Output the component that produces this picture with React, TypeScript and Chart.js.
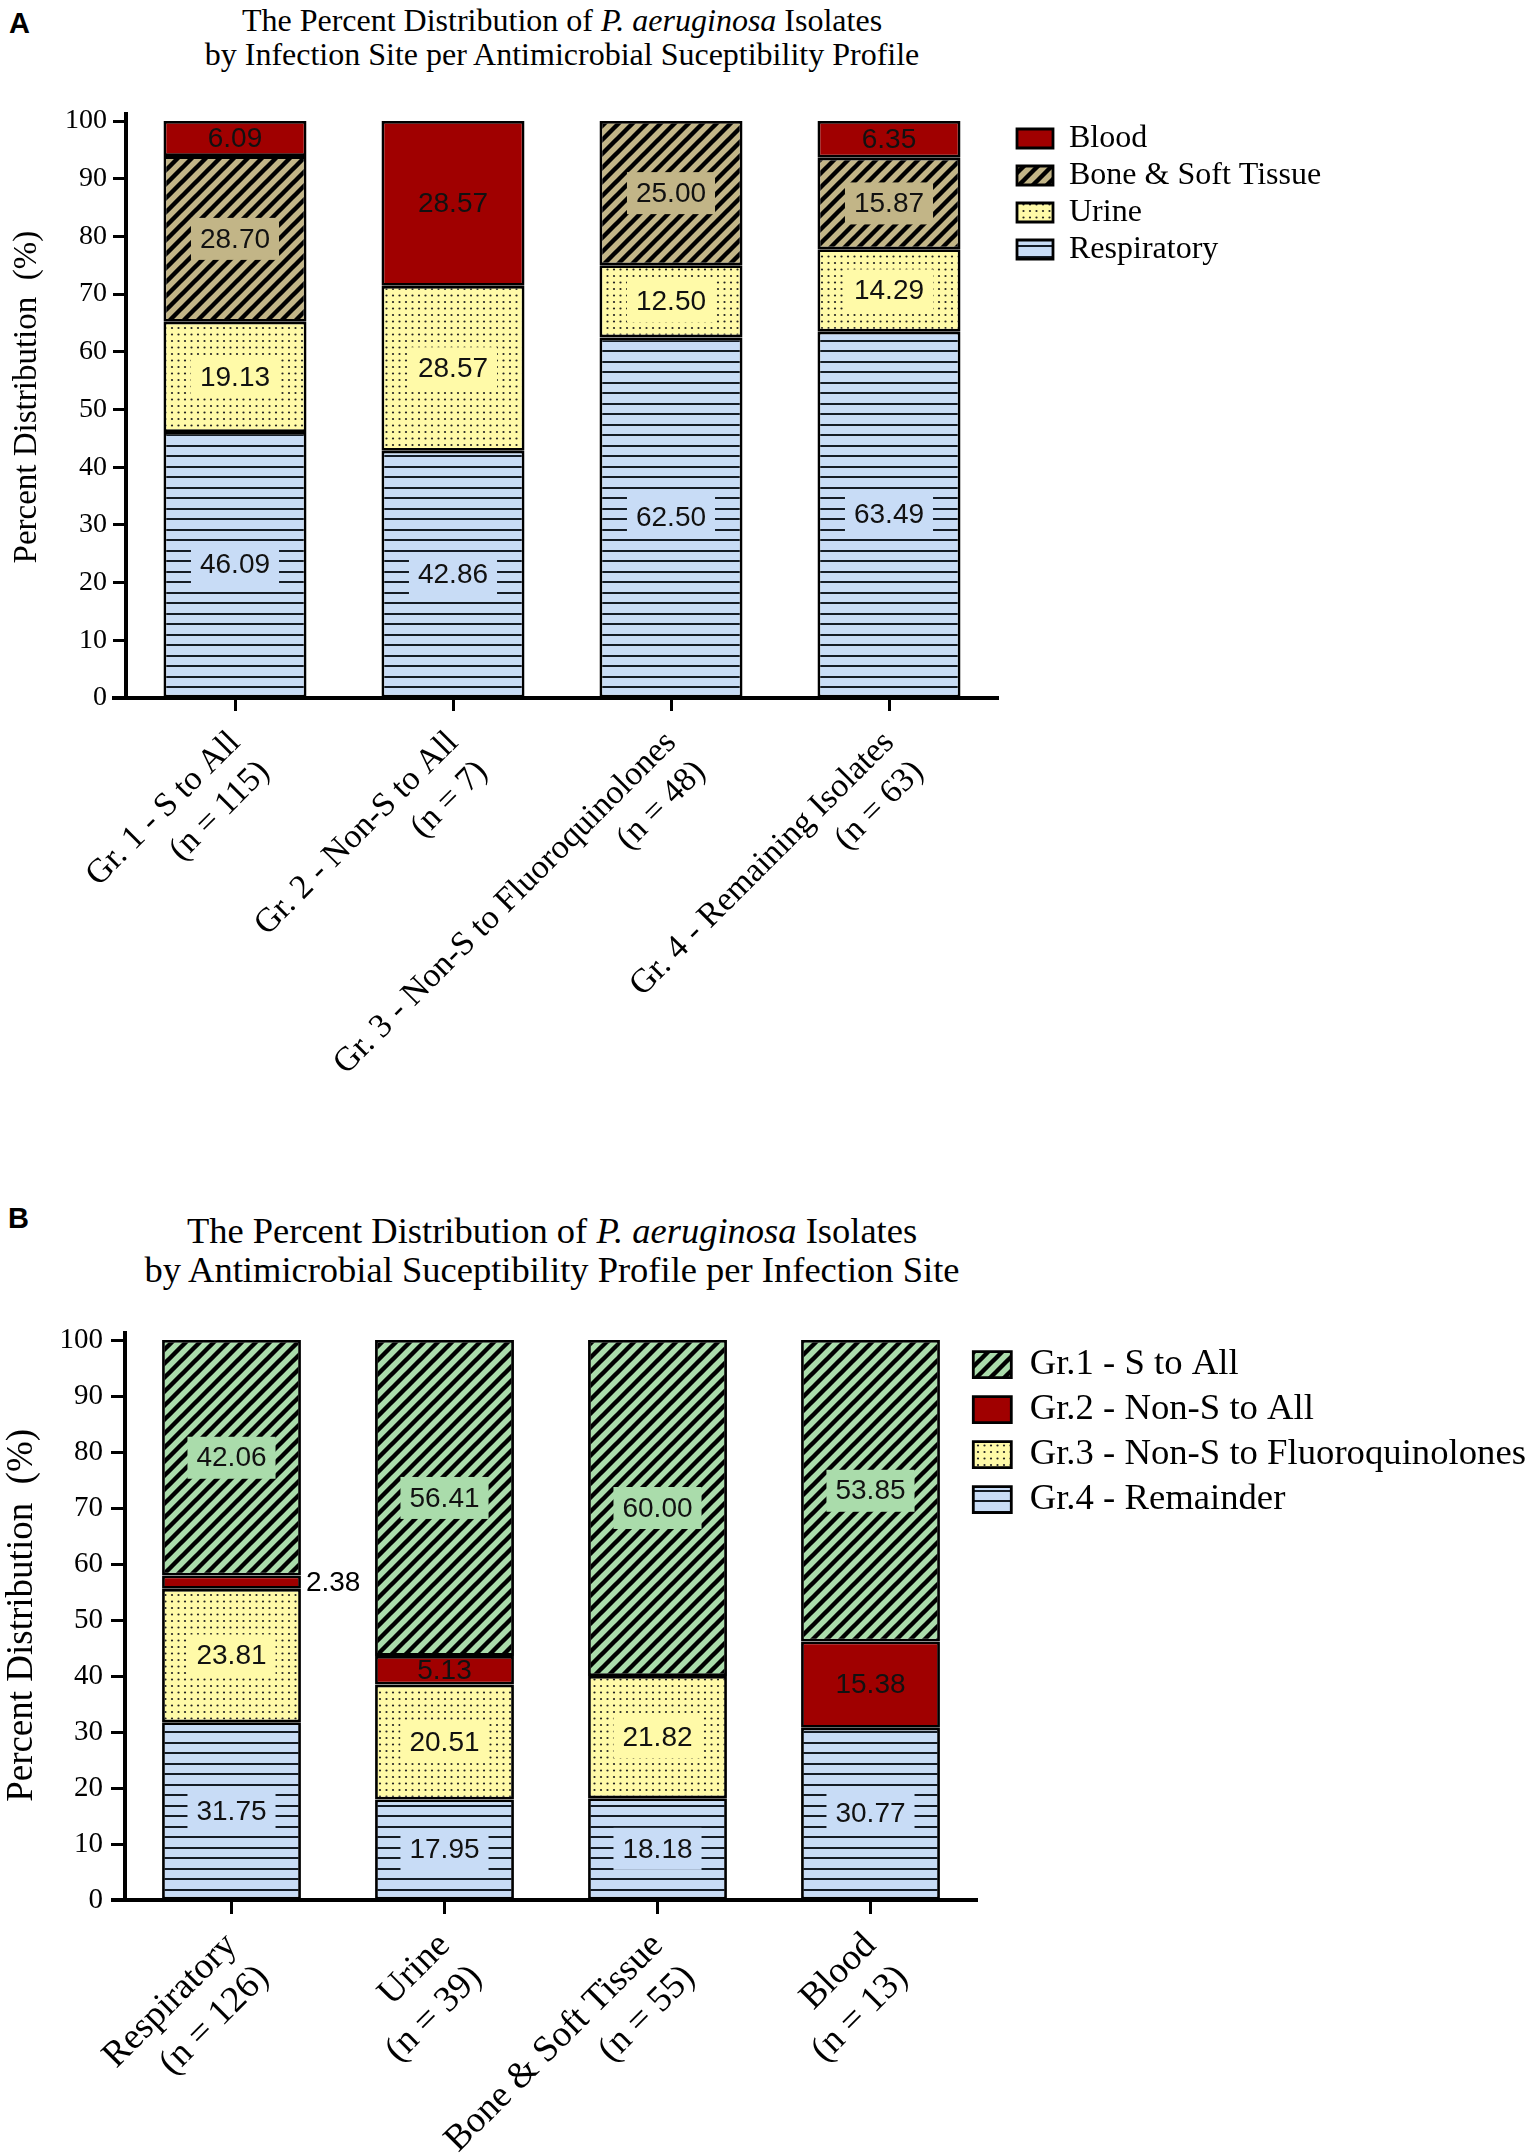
import React, { useEffect, useRef } from "react";
import { Chart, registerables } from "chart.js";

Chart.register(...registerables);

const SERIF = "'Liberation Serif', 'Times New Roman', serif";
const SANS = "'Liberation Sans', Arial, sans-serif";

// ---------- Data: panel A ----------
const aCategories = [
  ["Gr. 1 - S to All", "(n = 115)"],
  ["Gr. 2 - Non-S to All", "(n = 7)"],
  ["Gr. 3 - Non-S to Fluoroquinolones", "(n = 48)"],
  ["Gr. 4 - Remaining Isolates", "(n = 63)"],
];
const aSeriesNames = ["Respiratory", "Urine", "Bone & Soft Tissue", "Blood"];
const aRespiratory = [46.09, 42.86, 62.5, 63.49];
const aUrine = [19.13, 28.57, 12.5, 14.29];
const aBoneSoftTissue = [28.7, 0, 25.0, 15.87];
const aBlood = [6.09, 28.57, 0, 6.35];

// ---------- Data: panel B ----------
const bCategories = [
  ["Respiratory", "(n = 126)"],
  ["Urine", "(n = 39)"],
  ["Bone & Soft Tissue", "(n = 55)"],
  ["Blood", "(n = 13)"],
];
const bSeriesNames = [
  "Gr.4 - Remainder",
  "Gr.3 - Non-S to Fluoroquinolones",
  "Gr.2 - Non-S to All",
  "Gr.1 - S to All",
];
const bGr4 = [31.75, 17.95, 18.18, 30.77];
const bGr3 = [23.81, 20.51, 21.82, 0];
const bGr2 = [2.38, 5.13, 0, 15.38];
const bGr1 = [42.06, 56.41, 60.0, 53.85];

const yTicks = [0, 10, 20, 30, 40, 50, 60, 70, 80, 90, 100];
const yTitle = "Percent Distribution  (%)";

// ---------- Styles ----------
const RED = "#a00000";
const KHAKI = "#c2b587";
const YELLOW = "#fffaa8";
const BLUE = "#c8dcf6";
const GREEN = "#aadcab";

type Kind = "solid" | "hlines" | "dots" | "diag";

function makeFill(ctx: CanvasRenderingContext2D, kind: Kind, color: string): any {
  if (kind === "solid") return color;
  const c = document.createElement("canvas");
  const g = c.getContext("2d")!;
  if (kind === "hlines") {
    c.width = 12;
    c.height = 21;
    g.fillStyle = color;
    g.fillRect(0, 0, 12, 21);
    g.fillStyle = "#141c26";
    g.fillRect(0, 4, 12, 2);
    g.fillRect(0, 14, 12, 2);
  } else if (kind === "dots") {
    c.width = 13;
    c.height = 13;
    g.fillStyle = color;
    g.fillRect(0, 0, 13, 13);
    g.fillStyle = "#222";
    const pts = [
      [3, 3],
      [9.5, 3],
      [3, 9.5],
      [9.5, 9.5],
    ];
    for (const [px, py] of pts) {
      g.beginPath();
      g.arc(px, py, 1.1, 0, Math.PI * 2);
      g.fill();
    }
  } else {
    const s = 14;
    c.width = s;
    c.height = s;
    g.fillStyle = color;
    g.fillRect(0, 0, s, s);
    g.strokeStyle = "#000";
    g.lineWidth = 4.4;
    g.beginPath();
    for (const o of [-s, 0, s]) {
      g.moveTo(o - 3, s + 3);
      g.lineTo(o + s + 3, -3);
    }
    g.stroke();
  }
  return ctx.createPattern(c, "repeat");
}

interface PanelSpec {
  top: number;
  width: number;
  height: number;
  area: { left: number; top: number; right: number; bottom: number };
  categories: string[][];
  names: string[];
  values: number[][];
  kinds: Kind[];
  colors: string[];
  barPct: number;
  tickFont: number;
  xFont: number;
  xPad: number;
  yPad: number;
  tickLen: number;
  yTitle: string;
  yTitleFont: number;
  yTitlePad: number;
  legendFont: number;
  legendBoxW: number;
  legendBoxH: number;
  legendPad: number;
  legendDx: number;
  legendDy: number;
  labelFont: number;
}

const LEGEND_W = 200;
const BORDER = 2.8;

const panelA: PanelSpec = {
  top: 0,
  width: 1535,
  height: 1130,
  area: { left: 126, top: 121, right: 998, bottom: 698 },
  categories: aCategories,
  names: aSeriesNames,
  values: [aRespiratory, aUrine, aBoneSoftTissue, aBlood],
  kinds: ["hlines", "dots", "diag", "solid"],
  colors: [BLUE, YELLOW, KHAKI, RED],
  barPct: 0.656,
  tickFont: 28,
  xFont: 34,
  xPad: 12,
  yPad: 6,
  tickLen: 13,
  yTitle: "\u00a0\u00a0\u00a0" + yTitle,
  yTitleFont: 33,
  yTitlePad: 8,
  legendFont: 32,
  legendBoxW: 36,
  legendBoxH: 19,
  legendPad: 5,
  legendDx: 14,
  legendDy: -3.5,
  labelFont: 28,
};

const panelB: PanelSpec = {
  top: 1150,
  width: 1535,
  height: 1003,
  area: { left: 125, top: 190, right: 977, bottom: 750 },
  categories: bCategories,
  names: bSeriesNames,
  values: [bGr4, bGr3, bGr2, bGr1],
  kinds: ["hlines", "dots", "solid", "diag"],
  colors: [BLUE, YELLOW, RED, GREEN],
  barPct: 0.652,
  tickFont: 29,
  xFont: 37,
  xPad: 10,
  yPad: 8,
  tickLen: 14,
  yTitle: "\u00a0" + yTitle,
  yTitleFont: 37,
  yTitlePad: 0,
  legendFont: 36.7,
  legendBoxW: 38,
  legendBoxH: 26,
  legendPad: 8.3,
  legendDx: -12,
  legendDy: -2,
  labelFont: 28,
};

function Panel({ spec }: { spec: PanelSpec }) {
  const ref = useRef<HTMLCanvasElement>(null);
  useEffect(() => {
    const canvas = ref.current!;
    const ctx = canvas.getContext("2d")!;
    const fills = spec.kinds.map((k, i) => makeFill(ctx, k, spec.colors[i]));

    const legendShift = {
      id: "legendShift",
      afterLayout(chart: any) {
        const l = chart.legend;
        if (!l) return;
        l.left += spec.legendDx;
        l.top += spec.legendDy;
        l.bottom += spec.legendDy;
        l.right = chart.width;
        l.width = l.right - l.left;
      },
    };

    const axisExtend = {
      id: "axisExtend",
      afterDraw(chart: any) {
        const c = chart.ctx;
        const a = chart.chartArea;
        c.save();
        c.strokeStyle = "#000";
        c.lineWidth = 4;
        c.beginPath();
        c.moveTo(a.left - 14, a.bottom);
        c.lineTo(a.left + 2, a.bottom);
        c.moveTo(a.left, a.top - 9);
        c.lineTo(a.left, a.top + 2);
        c.stroke();
        c.restore();
      },
    };

    const segLabels = {
      id: "segLabels",
      afterDatasetsDraw(chart: any) {
        const c = chart.ctx;
        c.save();
        c.font = `${spec.labelFont}px ${SANS}`;
        c.textBaseline = "middle";
        chart.data.datasets.forEach((ds: any, di: number) => {
          const meta = chart.getDatasetMeta(di);
          meta.data.forEach((bar: any, i: number) => {
            const v = ds.data[i];
            if (!v) return;
            const p = bar.getProps(["x", "y", "base", "width"], true);
            const top = Math.min(p.y, p.base);
            const bottom = Math.max(p.y, p.base);
            const cy = (top + bottom) / 2;
            const txt = v.toFixed(2);
            if (v < 3) {
              c.textAlign = "left";
              c.fillStyle = "#000";
              c.fillText(txt, p.x + p.width / 2 + 5, cy + 1);
              return;
            }
            if (spec.kinds[di] !== "solid") {
              const tw = c.measureText(txt).width;
              c.save();
              c.beginPath();
              c.rect(
                p.x - p.width / 2 + BORDER,
                top + BORDER,
                p.width - 2 * BORDER,
                bottom - top - 2 * BORDER
              );
              c.clip();
              c.fillStyle = spec.colors[di];
              c.fillRect(p.x - tw / 2 - 9, cy - 21, tw + 18, 42);
              c.restore();
            }
            c.textAlign = "center";
            c.fillStyle = "#111";
            c.fillText(txt, p.x, cy + 1);
          });
        });
        c.restore();
      },
    };

    const chart = new Chart(canvas, {
      type: "bar",
      data: {
        labels: spec.categories,
        datasets: spec.names.map((n, i) => ({
          label: n,
          data: spec.values[i],
          backgroundColor: fills[i],
          borderColor: "#000",
          borderWidth: BORDER,
          borderSkipped: false,
          inflateAmount: 0,
          barPercentage: spec.barPct,
          categoryPercentage: 1,
        })),
      },
      options: {
        responsive: false,
        animation: false,
        events: [],
        layout: {
          padding: {
            top: spec.area.top,
            left: 0,
            right: spec.width - spec.area.right - LEGEND_W,
            bottom: 0,
          },
        },
        scales: {
          x: {
            stacked: true,
            afterFit: (s: any) => {
              s.height = spec.height - spec.area.bottom;
            },
            grid: {
              display: true,
              drawOnChartArea: false,
              drawTicks: true,
              tickLength: spec.tickLen,
              tickWidth: 3,
              tickColor: "#000",
              offset: false,
            },
            border: { display: true, color: "#000", width: 4 },
            ticks: {
              autoSkip: false,
              maxRotation: 45,
              minRotation: 45,
              padding: spec.xPad,
              color: "#000",
              font: { family: SERIF, size: spec.xFont, lineHeight: 1.22 },
            },
          },
          y: {
            stacked: true,
            min: 0,
            max: 100,
            afterFit: (s: any) => {
              s.width = spec.area.left;
            },
            afterBuildTicks: (s: any) => {
              s.ticks = yTicks.map((v) => ({ value: v }));
            },
            grid: {
              display: true,
              drawOnChartArea: false,
              drawTicks: true,
              tickLength: spec.tickLen,
              tickWidth: 3,
              tickColor: "#000",
            },
            border: { display: true, color: "#000", width: 4 },
            ticks: {
              padding: spec.yPad,
              color: "#000",
              font: { family: SERIF, size: spec.tickFont },
            },
            title: {
              display: true,
              text: spec.yTitle,
              color: "#000",
              font: { family: SERIF, size: spec.yTitleFont },
              padding: { top: spec.yTitlePad, bottom: 0 },
            },
          },
        },
        plugins: {
          legend: {
            position: "right",
            align: "start",
            reverse: true,
            maxWidth: LEGEND_W,
            labels: {
              boxWidth: spec.legendBoxW,
              boxHeight: spec.legendBoxH,
              padding: spec.legendPad,
              color: "#000",
              font: { family: SERIF, size: spec.legendFont },
            },
          },
          tooltip: { enabled: false },
          title: { display: false },
        },
      } as any,
      plugins: [legendShift, axisExtend, segLabels],
    });
    return () => chart.destroy();
  }, [spec]);
  return (
    <canvas
      ref={ref}
      width={spec.width}
      height={spec.height}
      style={{
        position: "absolute",
        left: 0,
        top: spec.top,
        width: spec.width,
        height: spec.height,
      }}
    />
  );
}

export default function App() {
  useEffect(() => {
    document.body.style.margin = "0";
  }, []);
  const panelLabel: React.CSSProperties = {
    position: "absolute",
    fontFamily: SANS,
    fontWeight: "bold",
    fontSize: 29,
    lineHeight: "29px",
    color: "#000",
  };
  return (
    <div
      style={{
        position: "absolute",
        left: 0,
        top: 0,
        width: 1535,
        height: 2153,
        background: "#fff",
        overflow: "hidden",
      }}
    >
      <div style={{ ...panelLabel, left: 9, top: 9 }}>A</div>
      <div
        style={{
          position: "absolute",
          left: 0,
          top: 3,
          width: 1124,
          textAlign: "center",
          fontFamily: SERIF,
          fontSize: 32,
          lineHeight: "34px",
          color: "#000",
          whiteSpace: "nowrap",
        }}
      >
        The Percent Distribution of <i>P. aeruginosa</i> Isolates
        <br />
        by Infection Site per Antimicrobial Suceptibility Profile
      </div>
      <Panel spec={panelA} />

      <div style={{ ...panelLabel, left: 8, top: 1204 }}>B</div>
      <div
        style={{
          position: "absolute",
          left: 0,
          top: 1211,
          width: 1104,
          textAlign: "center",
          fontFamily: SERIF,
          fontSize: 36.5,
          lineHeight: "39px",
          color: "#000",
          whiteSpace: "nowrap",
        }}
      >
        The Percent Distribution of <i>P. aeruginosa</i> Isolates
        <br />
        by Antimicrobial Suceptibility Profile per Infection Site
      </div>
      <Panel spec={panelB} />
    </div>
  );
}
